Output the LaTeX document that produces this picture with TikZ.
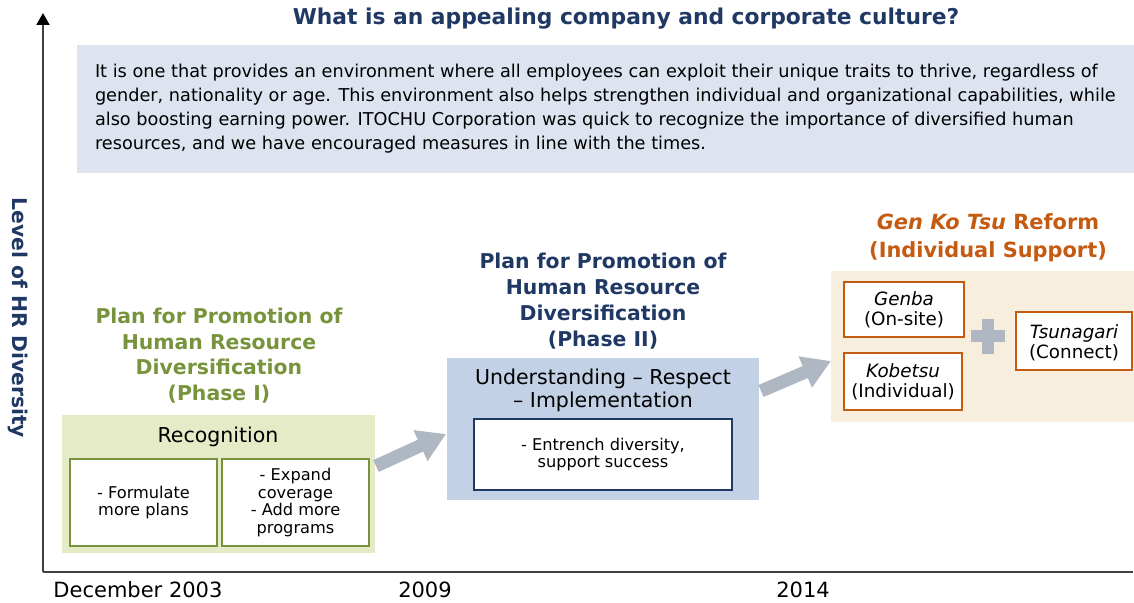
\documentclass[tikz,border=0pt]{standalone}
\usepackage{fontspec}
\setmainfont{DejaVu Sans}
\usetikzlibrary{arrows.meta}
\definecolor{navy}{HTML}{1F3864}
\definecolor{olivet}{HTML}{77933C}
\definecolor{olivefill}{HTML}{E4EBC6}
\definecolor{bluefill}{HTML}{C2D1E5}
\definecolor{parafill}{HTML}{DDE4F0}
\definecolor{orangec}{HTML}{C55A11}
\definecolor{beigefill}{HTML}{F7EEDD}
\definecolor{arrowgray}{HTML}{AEB7C2}
\definecolor{axisgray}{HTML}{404040}
\begin{document}
\begin{tikzpicture}[x=1pt,y=-1pt,
  every node/.style={inner sep=0pt, outer sep=0pt},
  whitebox/.style={fill=white, line width=1.4pt},
  headtxt/.style={font=\fontsize{20.4}{25.8}\selectfont\bfseries, align=center},
  bodytxt/.style={font=\fontsize{16.2}{17.5}\selectfont, align=center, text=black},
  midtxt/.style={font=\fontsize{20.5}{22.5}\selectfont, align=center, text=black},
  boxtxt/.style={font=\fontsize{18.3}{20}\selectfont, align=center, text=black},
  bigarrow/.style={draw=arrowgray, line width=13pt, -{Triangle[width=32pt,length=28pt,arrowgray]}},
  axisline/.style={draw=axisgray, line width=2pt},
  ticktxt/.style={font=\fontsize{21}{22}\selectfont, text=black}
]
\useasboundingbox (0,0) rectangle (1134,602);

% axes
\coordinate (O) at (43,572);
\coordinate (ytop) at (43,13);
\coordinate (xend) at (1133,572);
\draw[axisline, -{Triangle[width=13pt,length=12pt,black]}] (O) -- (ytop);
\draw[axisline] (O) -- (xend);
\node[font=\fontsize{20.3}{22}\selectfont\bfseries, text=navy, rotate=-90] (ylab) at (18,318) {Level of HR Diversity};

% title and paragraph
\node[font=\fontsize{21.8}{24}\selectfont\bfseries, text=navy] (title) at (626,19) {What is an appealing company and corporate culture?};
\node[fill=parafill, minimum width=1057pt, minimum height=128pt] (para) at (605.5,109) {};
\node[font=\fontsize{17.7}{24}\selectfont, align=left, anchor=west, text=black] (paratxt) at (95,109) {It is one that provides an environment where all employees can exploit their unique traits to thrive, regardless of\\gender, nationality or age. This environment also helps strengthen individual and organizational capabilities, while\\also boosting earning power. ITOCHU Corporation was quick to recognize the importance of diversified human\\resources, and we have encouraged measures in line with the times.};

% Phase I
\node[headtxt, text=olivet] (p1title) at (219,355.5) {Plan for Promotion of\\Human Resource\\Diversification\\(Phase I)};
\node[fill=olivefill, minimum width=313pt, minimum height=138pt] (p1box) at (218.5,484) {};
\node[midtxt] (recog) at (218,437) {Recognition};
\node[whitebox, draw=olivet, minimum width=147pt, minimum height=87pt] (p1a) at (143.5,502.5) {};
\node[bodytxt] (p1atxt) at (143.5,502.5) {- Formulate\\more plans};
\node[whitebox, draw=olivet, minimum width=147pt, minimum height=87pt] (p1b) at (295.5,502.5) {};
\node[bodytxt] (p1btxt) at (295.5,502.5) {- Expand\\coverage\\- Add more\\programs};

% Phase II
\node[headtxt, text=navy] (p2title) at (603,301) {Plan for Promotion of\\Human Resource\\Diversification\\(Phase II)};
\node[fill=bluefill, minimum width=312pt, minimum height=142pt] (p2box) at (603,429) {};
\node[midtxt] (p2txt) at (603,390.5) {Understanding -- Respect\\-- Implementation};
\node[whitebox, draw=navy, minimum width=258pt, minimum height=71pt] (p2a) at (603,454.5) {};
\node[bodytxt] (p2atxt) at (603,454.5) {- Entrench diversity,\\support success};

% Phase III
\node[headtxt, text=orangec, font=\fontsize{20.9}{28}\selectfont\bfseries] (p3title) at (988,238) {\textit{Gen Ko Tsu} Reform\\(Individual Support)};
\node[fill=beigefill, minimum width=303pt, minimum height=151pt] (p3box) at (982.5,346) {};
\node[whitebox, draw=orangec, minimum width=120pt, minimum height=55pt] (genba) at (904,309.5) {};
\node[boxtxt] (genbatxt) at (904,309.5) {\textit{Genba}\\(On-site)};
\node[whitebox, draw=orangec, minimum width=118pt, minimum height=57pt] (kobetsu) at (903,381.5) {};
\node[boxtxt] (kobetsutxt) at (903,382) {\textit{Kobetsu}\\(Individual)};
\node[whitebox, draw=orangec, minimum width=116pt, minimum height=58pt] (tsuna) at (1074,341) {};
\node[boxtxt] (tsunatxt) at (1074,343) {\textit{Tsunagari}\\(Connect)};
% plus sign
\node[fill=arrowgray, minimum width=34pt, minimum height=11.5pt] (plush) at (988,336) {};
\node[fill=arrowgray, minimum width=11.5pt, minimum height=35pt] (plusv) at (988,336) {};

% arrows
\coordinate (a1s) at (376,466);
\coordinate (a1e) at (446,434);
\coordinate (a2s) at (761,391);
\coordinate (a2e) at (831,361);
\draw[bigarrow] (a1s) -- (a1e);
\draw[bigarrow] (a2s) -- (a2e);

% x labels
\node[ticktxt] (t1) at (138,590) {December 2003};
\node[ticktxt] (t2) at (425,590) {2009};
\node[ticktxt] (t3) at (803,590) {2014};
\end{tikzpicture}
\end{document}
